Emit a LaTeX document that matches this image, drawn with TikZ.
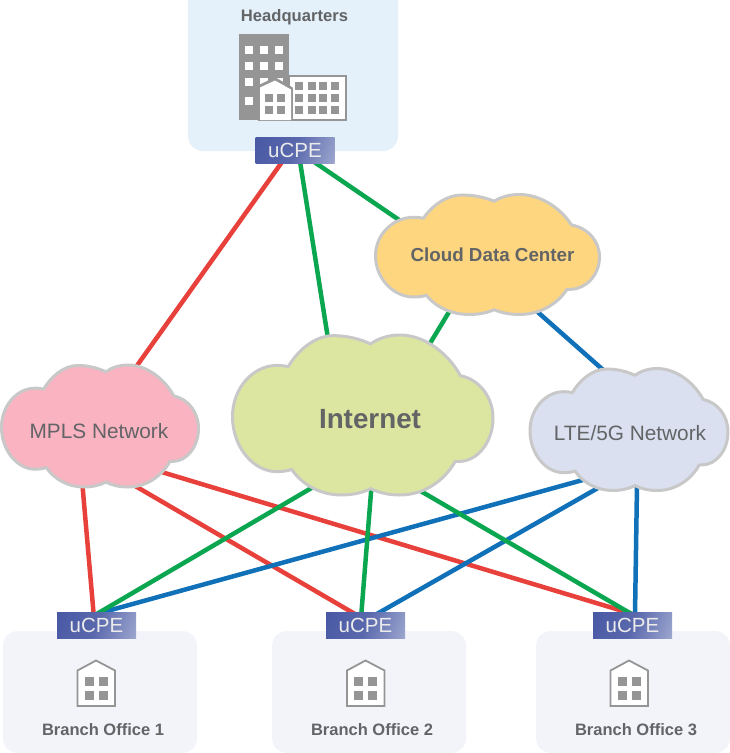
\documentclass[tikz,border=0pt]{standalone}
\usepackage{fontspec}
\setmainfont{Liberation Sans}
\definecolor{txt}{HTML}{636466}
\definecolor{redl}{HTML}{E8403A}
\definecolor{greenl}{HTML}{0AA650}
\definecolor{bluel}{HTML}{1070B8}
\definecolor{edgec}{HTML}{C8C8C8}
\definecolor{iconc}{HTML}{959595}
\definecolor{hqfill}{HTML}{E5F1FA}
\definecolor{brfill}{HTML}{F3F4FA}
\definecolor{cpink}{HTML}{F9B3C1}
\definecolor{cgreen}{HTML}{DDE6A0}
\definecolor{cyellow}{HTML}{FFD680}
\definecolor{cblue}{HTML}{DAE0F0}
\definecolor{ua}{HTML}{3F4F9F}
\definecolor{ub}{HTML}{5A69AD}
\definecolor{uc}{HTML}{98A2CC}
\definecolor{ud}{HTML}{EEF0F8}
\pgfdeclarehorizontalshading{ucpeshade}{100bp}{color(0bp)=(ua);color(50bp)=(ub);color(80bp)=(uc);color(100bp)=(ud)}
\newcommand{\cloudshape}[5]{% x0 y0 w h fill
  \begin{scope}[shift={(#1,#2)},xscale=#3,yscale=#4]
  \draw[cloudline,fill=#5] (0,.51)
  .. controls (0,.33) and (.08,.19) .. (.17,.19)
  .. controls (.185,.19) and (.2,.192) .. (.214,.198)
  .. controls (.245,.11) and (.31,.004) .. (.387,.004)
  .. controls (.44,.004) and (.49,.025) .. (.53,.056)
  .. controls (.56,.02) and (.6,0) .. (.642,0)
  .. controls (.74,0) and (.83,.12) .. (.875,.254)
  .. controls (.95,.28) and (1,.39) .. (1,.52)
  .. controls (1,.67) and (.94,.79) .. (.87,.79)
  .. controls (.865,.79) and (.86,.79) .. (.855,.79)
  .. controls (.81,.92) and (.73,1) .. (.642,1)
  .. controls (.6,1) and (.56,.985) .. (.53,.96)
  .. controls (.5,.985) and (.46,1) .. (.419,1)
  .. controls (.34,1) and (.27,.94) .. (.227,.84)
  .. controls (.21,.85) and (.19,.854) .. (.17,.854)
  .. controls (.08,.854) and (0,.7) .. (0,.51) -- cycle;
  \end{scope}}
\newcommand{\branchicon}[1]{%
  \begin{scope}[shift={(#1,0)}]
  \draw[iconc,line width=1.8pt,fill=white,line join=miter] (-18.5,670.5) -- (0,660.5) -- (19,670.5) -- (19,706) -- (-18.5,706) -- cycle;
  \foreach \xx in {-11.5,2.5}\foreach \yy in {677,690.5}
    \fill[iconc] (\xx,\yy) rectangle +(9,9);
  \end{scope}}
\tikzset{
  x=1pt,y=-1pt,
  room/.style={rounded corners=15pt,draw=none},
  cloudline/.style={draw=edgec,line width=3pt,line join=round},
  wire/.style={line width=4.5pt},
  ucpe/.style={minimum width=79pt,minimum height=26pt,inner sep=0pt,text=white!92!black,font=\fontsize{20.5}{20.5}\selectfont,shade,shading=ucpeshade,shading angle=-20},
  boldlabel/.style={text=txt,font=\bfseries\fontsize{16.5}{16.5}\selectfont,inner sep=0pt},
  netlabel/.style={text=txt,font=\fontsize{20.8}{20.8}\selectfont,inner sep=0pt},
}
\begin{document}
\begin{tikzpicture}
\useasboundingbox (0,0) rectangle (730,753);
% rooms
\begin{scope}
\clip (0,0) rectangle (730,753);
\fill[room,fill=hqfill] (188,-20) rectangle (398,151);
\foreach \xa in {3,272,536}
  \fill[room,fill=brfill] (\xa,631) rectangle +(194,122);
\end{scope}
% coordinates
\coordinate (hA) at (287,155); \coordinate (mA) at (131,374);
\coordinate (hB) at (299,155); \coordinate (iA) at (329,345);
\coordinate (hC) at (304,155); \coordinate (dA) at (405,224);
\coordinate (dB) at (452,307); \coordinate (iB) at (426,350);
\coordinate (dC) at (532,307); \coordinate (lA) at (610,376);
\coordinate (mB) at (82,480);  \coordinate (uA) at (94,618);
\coordinate (mC) at (130,483); \coordinate (uB) at (355,614);
\coordinate (mD) at (155,470); \coordinate (uC) at (636,615);
\coordinate (iC) at (320,483); \coordinate (uD) at (95,615);
\coordinate (iD) at (372,480); \coordinate (uE) at (361,618);
\coordinate (iE) at (412,486); \coordinate (uF) at (635,616);
\coordinate (lB) at (590,478); \coordinate (uG) at (100,613);
\coordinate (lC) at (605,484); \coordinate (uH) at (375,615);
\coordinate (lD) at (637,485); \coordinate (uI) at (635,615);
% connectors
\draw[wire,redl] (hA)--(mA) (mB)--(uA) (mC)--(uB) (mD)--(uC);
\draw[wire,bluel] (dC)--(lA) (lB)--(uG) (lC)--(uH) (lD)--(uI);
\draw[wire,greenl] (hB)--(iA) (hC)--(dA) (dB)--(iB) (iC)--(uD) (iD)--(uE) (iE)--(uF);
% clouds
\cloudshape{1.5}{365}{197}{122}{cpink}
\cloudshape{232.5}{335}{260.5}{160}{cgreen}
\cloudshape{375.5}{194.5}{224}{120}{cyellow}
\cloudshape{530}{368.5}{198}{122}{cblue}
\node[netlabel] (mpls) at (99,431) {MPLS Network};
\node[netlabel,font=\bfseries\fontsize{27.8}{27.8}\selectfont] (inet) at (370,419.5) {Internet};
\node[boldlabel,font=\bfseries\fontsize{18.8}{18.8}\selectfont] (dc) at (492.5,255) {Cloud Data Center};
\node[netlabel] (lte) at (630,433.5) {LTE/5G Network};
% uCPE
\node[ucpe] (hq) at (295,150) {uCPE};
\node[ucpe] (ba) at (96.5,625) {uCPE};
\node[ucpe] (bb) at (365.5,625) {uCPE};
\node[ucpe] (bc) at (632.5,625) {uCPE};
% HQ icon
\fill[iconc] (239,34) rectangle (289,120);
\foreach \xx in {244.5,259.5,275}\foreach \yy in {46,62,78}
  \fill[white] (\xx,\yy) rectangle +(8,8);
\fill[white] (244.5,96.5) rectangle +(8,8);
\draw[iconc,line width=2pt,fill=white] (289,75.5) -- (345.5,75.5) -- (345.5,119.5) -- (289,119.5) -- cycle;
\foreach \xx in {295,307.5,318.5,331}\foreach \yy in {81.5,93.5,105.5}
  \fill[iconc] (\xx,\yy) rectangle +(8,8);
\draw[iconc,line width=1.5pt,fill=iconc] (258.5,86) -- (275,78) -- (292,88) -- (292,120) -- (258.5,120) -- cycle;
\fill[white] (260,87.5) -- (275,80.5) -- (291,89.5) -- (291,120) -- (260,120) -- cycle;
\foreach \xx in {265,277}\foreach \yy in {94,106}
  \fill[iconc] (\xx,\yy) rectangle +(8,7.5);
% branch icons
\branchicon{96}
\branchicon{365.5}
\branchicon{629}
% labels
\node[boldlabel,font=\bfseries\fontsize{16.6}{16.6}\selectfont] (hql) at (294.5,17) {Headquarters};
\node[boldlabel] (la) at (103,730) {Branch Office 1};
\node[boldlabel] (lb) at (372,730) {Branch Office 2};
\node[boldlabel] (lc) at (636,730) {Branch Office 3};
\end{tikzpicture}
\end{document}
